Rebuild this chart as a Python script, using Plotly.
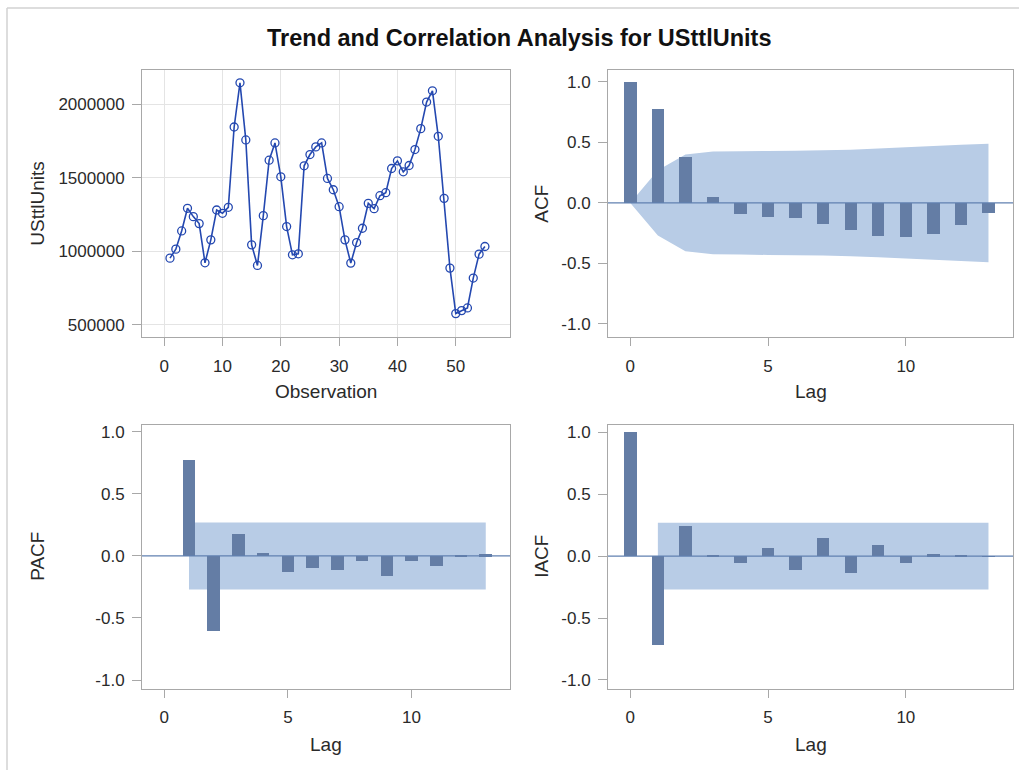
import plotly.graph_objects as go

# ---------------- data ----------------
obs = list(range(1, 56))
units = [952500, 1013800, 1138000, 1291900, 1235300, 1187800, 920800, 1077000, 1280500, 1258000,
         1298700, 1846000, 2147000, 1757900, 1043000, 902700, 1242100, 1620000, 1737600, 1506800,
         1167500, 975100, 981900, 1581500, 1658400, 1710400, 1737600, 1495500, 1418600, 1303200,
         1077000, 918600, 1058800, 1156200, 1325800, 1289600, 1377800, 1398200, 1563300, 1615300,
         1540700, 1583700, 1692300, 1834800, 2015800, 2092700, 1782800, 1359700, 884600, 574700,
         595000, 613200, 816800, 979700, 1031700]

lags = [0, 1, 2, 3, 4, 5, 6, 7, 8, 9, 10, 11, 12, 13]
acf = [1.0, 0.777, 0.377, 0.047, -0.096, -0.121, -0.129, -0.174, -0.229, -0.275, -0.287, -0.259, -0.187, -0.085]
acf_band = [0.0, 0.27, 0.40, 0.425, 0.427, 0.43, 0.432, 0.435, 0.44, 0.45, 0.46, 0.47, 0.48, 0.49]

pacf_lags = [1, 2, 3, 4, 5, 6, 7, 8, 9, 10, 11, 12, 13]
pacf = [0.771, -0.60, 0.179, 0.024, -0.125, -0.096, -0.112, -0.043, -0.163, -0.04, -0.083, 0.011, 0.016]

iacf = [1.0, -0.717, 0.247, 0.013, -0.054, 0.064, -0.11, 0.145, -0.134, 0.094, -0.054, 0.016, 0.008, 0.002]

band_lags = [1, 13]
pacf_band = 0.27
iacf_band = 0.27

units_ticks = [500000, 1000000, 1500000, 2000000]
obs_ticks = [0, 10, 20, 30, 40, 50]
lag_ticks = [0, 5, 10]
corr_ticks = [-1.0, -0.5, 0.0, 0.5, 1.0]
corr_labels = ["-1.0", "-0.5", "0.0", "0.5", "1.0"]

title_text = "Trend and Correlation Analysis for USttlUnits"

# ---------------- style ----------------
W, H = 1019, 770
FONT = "Liberation Sans, Arial, sans-serif"
TXT = "#2a2a2a"
FRAME = "#a8a8a8"
BAR = "#647da5"
BAND = "#b8cce6"
ZERO = "#6080b0"
LINE = "#2448b0"


def px_x(p):
    return p / W


def px_y(p):
    return 1 - p / H


fig = go.Figure()

# time series
fig.add_trace(go.Scatter(x=obs, y=units, mode="lines+markers",
                         line=dict(color=LINE, width=1.6),
                         marker=dict(symbol="circle-open", size=8, color=LINE, line=dict(width=1.3)),
                         xaxis="x", yaxis="y", showlegend=False))

# bars
fig.add_trace(go.Bar(x=lags, y=acf, width=0.45, marker=dict(color=BAR, line=dict(width=0)),
                     xaxis="x2", yaxis="y2", showlegend=False))
fig.add_trace(go.Bar(x=pacf_lags, y=pacf, width=0.51, marker=dict(color=BAR, line=dict(width=0)),
                     xaxis="x3", yaxis="y3", showlegend=False))
fig.add_trace(go.Bar(x=lags, y=iacf, width=0.45, marker=dict(color=BAR, line=dict(width=0)),
                     xaxis="x4", yaxis="y4", showlegend=False))

tickfont = dict(family=FONT, size=17, color=TXT)


def xax(dom, rng, ticks, anchor, grid=False):
    return dict(domain=[px_x(dom[0]), px_x(dom[1])], range=rng, tickvals=ticks, anchor=anchor,
                showline=True, mirror=True, linecolor=FRAME, linewidth=1,
                ticks="outside", ticklen=8, tickcolor=FRAME, tickwidth=1,
                tickfont=tickfont, ticklabelstandoff=5,
                showgrid=grid, gridcolor="#e4e4e4", gridwidth=1, zeroline=False)


def yax(dom, rng, ticks, anchor, fmt=None, labels=None, grid=False):
    d = dict(domain=[px_y(dom[1]), px_y(dom[0])], range=rng, tickvals=ticks, anchor=anchor,
             showline=True, mirror=True, linecolor=FRAME, linewidth=1,
             ticks="outside", ticklen=9, tickcolor=FRAME, tickwidth=1,
             tickfont=tickfont, ticklabelstandoff=4,
             showgrid=grid, gridcolor="#e4e4e4", gridwidth=1, zeroline=False)
    if fmt:
        d["tickformat"] = fmt
    if labels:
        d["ticktext"] = labels
    return d


LX = (142, 510)
RX = (608, 1013)
TY = (68.5, 336.5)
BY = (424.5, 689.3)

fig.update_layout(
    width=W, height=H, margin=dict(l=0, r=0, t=0, b=0),
    paper_bgcolor="white", plot_bgcolor="white",
    font=dict(family=FONT, color=TXT),
    bargap=0,
    xaxis=xax(LX, [-3.8, 59.3], obs_ticks, "y", grid=True),
    yaxis=yax(TY, [413900, 2232800], units_ticks, "x", fmt="d", grid=True),
    xaxis2=xax(RX, [-0.81, 13.89], lag_ticks, "y2"),
    yaxis2=yax(TY, [-1.11, 1.097], corr_ticks, "x2", labels=corr_labels),
    xaxis3=xax(LX, [-0.9, 13.98], lag_ticks, "y3"),
    yaxis3=yax(BY, [-1.069, 1.056], corr_ticks, "x3", labels=corr_labels),
    xaxis4=xax(RX, [-0.81, 13.89], lag_ticks, "y4"),
    yaxis4=yax(BY, [-1.07, 1.06], corr_ticks, "x4", labels=corr_labels),
)

# confidence bands (drawn beneath bars)
upper = [f"{x},{y}" for x, y in zip(lags, acf_band)]
lower = [f"{x},{-y}" for x, y in zip(lags[::-1], acf_band[::-1])]
acf_path = "M " + " L ".join(upper + lower) + " Z"
fig.add_shape(type="path", xref="x2", yref="y2", path=acf_path, fillcolor=BAND,
              line=dict(width=0), layer="below")
fig.add_shape(type="rect", xref="x3", yref="y3", x0=band_lags[0], x1=band_lags[1],
              y0=-pacf_band, y1=pacf_band, fillcolor=BAND, line=dict(width=0), layer="below")
fig.add_shape(type="rect", xref="x4", yref="y4", x0=band_lags[0], x1=band_lags[1],
              y0=-iacf_band, y1=iacf_band, fillcolor=BAND, line=dict(width=0), layer="below")

# zero reference lines
for xa, ya in [("x2", "y2"), ("x3", "y3"), ("x4", "y4")]:
    fig.add_shape(type="line", xref=f"{xa} domain", yref=ya, x0=0, x1=1, y0=0, y1=0,
                  line=dict(color=ZERO, width=1.2), layer="above")

# outer border (left and top visible)
fig.add_shape(type="line", xref="paper", yref="paper", x0=px_x(7), x1=px_x(7), y0=px_y(800), y1=px_y(6),
              line=dict(color="#d2d2d2", width=1.5))
fig.add_shape(type="line", xref="paper", yref="paper", x0=px_x(7), x1=px_x(1100), y0=px_y(6), y1=px_y(6),
              line=dict(color="#d2d2d2", width=1.5))

ann_font = dict(family=FONT, size=19, color=TXT)
annotations = [
    dict(text="<b>" + title_text + "</b>", x=px_x(519), y=px_y(36.5),
         font=dict(family=FONT, size=23.5, color="#111"), xanchor="center", yanchor="middle"),
    dict(text="Observation", x=px_x(326), y=px_y(391), font=ann_font, xanchor="center", yanchor="middle"),
    dict(text="Lag", x=px_x(810.5), y=px_y(391), font=ann_font, xanchor="center", yanchor="middle"),
    dict(text="Lag", x=px_x(326), y=px_y(745), font=ann_font, xanchor="center", yanchor="middle"),
    dict(text="Lag", x=px_x(810.5), y=px_y(745), font=ann_font, xanchor="center", yanchor="middle"),
    dict(text="USttlUnits", x=px_x(38), y=px_y(202.5), font=ann_font, textangle=-90, xanchor="center", yanchor="middle"),
    dict(text="ACF", x=px_x(542), y=px_y(202.5), font=ann_font, textangle=-90, xanchor="center", yanchor="middle"),
    dict(text="PACF", x=px_x(38), y=px_y(557), font=ann_font, textangle=-90, xanchor="center", yanchor="middle"),
    dict(text="IACF", x=px_x(542), y=px_y(557), font=ann_font, textangle=-90, xanchor="center", yanchor="middle"),
]
for a in annotations:
    a.update(xref="paper", yref="paper", showarrow=False)
fig.update_layout(annotations=annotations)

fig.write_html("out.html", config={"displayModeBar": False},
               post_script="document.body.style.margin='0';document.body.style.overflow='hidden';")
